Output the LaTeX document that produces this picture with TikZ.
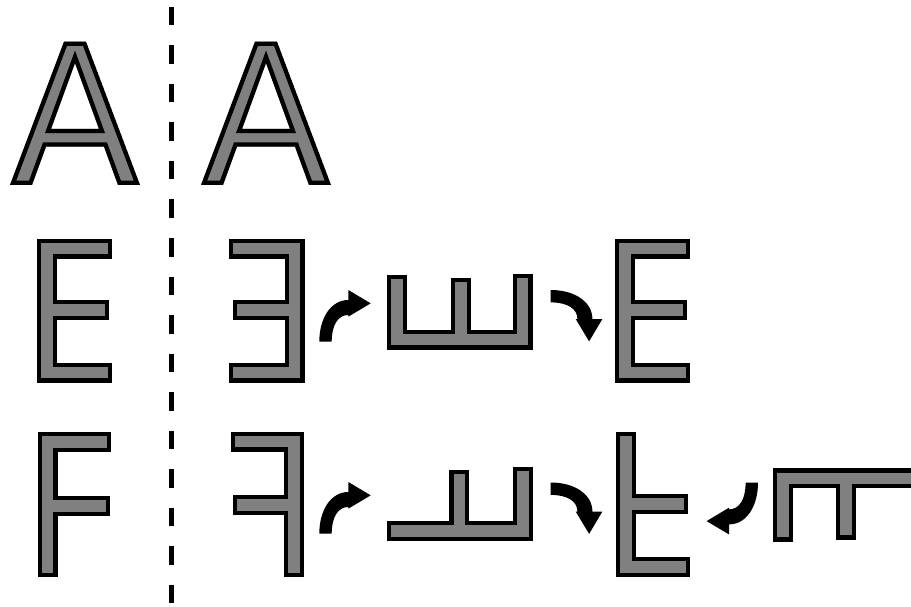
\documentclass[tikz,border=0pt]{standalone}
\begin{document}
\tikzset{
  glyphblack/.style={line width=20pt, line cap=rect, line join=miter, draw=black},
  glyphgray/.style={line width=11.5pt, line cap=rect, line join=miter, draw=gray},
  arrowshape/.style={fill=black},
  divider/.style={line width=5pt, draw=black, dash pattern=on 18.5pt off 20pt},
}
\newcommand\glyphpath[1]{\draw[glyphblack] #1; \draw[glyphgray] #1;}
\newcommand\drawAshape[1]{%
  \begin{scope}[shift={(#1,0)}]
    \clip (10,185) -- (64,41.7) -- (86,41.7) -- (140,185) -- (118,185) -- (104,146.7) -- (46,146.7) -- (32,185) -- cycle (75,63) -- (51,129) -- (99,129) -- cycle;
    \fill[gray, even odd rule] (10,185) -- (64,41.7) -- (86,41.7) -- (140,185) -- (118,185) -- (104,146.7) -- (46,146.7) -- (32,185) -- cycle (75,63) -- (51,129) -- (99,129) -- cycle;
    \draw[line width=8.5pt, line join=miter] (10,185) -- (64,41.7) -- (86,41.7) -- (140,185) -- (118,185) -- (104,146.7) -- (46,146.7) -- (32,185) -- cycle (75,63) -- (51,129) -- (99,129) -- cycle;
  \end{scope}}
\newcommand\curvedarrow[2]{%
  \begin{scope}[shift={#1}, rotate=#2]
    \fill[arrowshape] (0,0) .. controls (0,-23.7) and (11.7,-41.7) .. (29,-41.7) -- (29,-51.7) -- (51.4,-38.4) -- (29,-25) -- (29,-26.7) .. controls (18.7,-26.7) and (12.4,-16.7) .. (12.4,0) -- cycle;
  \end{scope}}
\begin{tikzpicture}[x=1pt, y=-1pt]
  \useasboundingbox (0,0) rectangle (911,607);
  \clip (0,0) rectangle (911,607);
  % divider
  \draw[divider] (171,7) -- (171,607);
  % row A
  \drawAshape{0}
  \drawAshape{191}
  % row E
  \glyphpath{(102,248.5) -- (47,248.5) -- (47,372.7) -- (102,372.7) (47,310) -- (99,310)}
  \glyphpath{(238.5,248.5) -- (294.5,248.5) -- (294.5,372.7) -- (238.5,372.7) (294.5,310) -- (242.5,310)}
  \glyphpath{(397,284.5) -- (397,339.7) -- (522.5,339.7) -- (522.5,283.5) (461,339.7) -- (461,287.8)}
  \glyphpath{(680,248.5) -- (625,248.5) -- (625,372.7) -- (680,372.7) (625,310) -- (677,310)}
  % row F
  \glyphpath{(101,442) -- (47.5,442) -- (47.5,567.2) (47.5,506) -- (99.8,506)}
  \glyphpath{(241.2,441.5) -- (294,441.5) -- (294,567.2) (294,505) -- (242.8,505)}
  \glyphpath{(397.2,531) -- (523,531) -- (523,477.2) (459.4,531) -- (459.4,479.5)}
  \glyphpath{(626,442.2) -- (626,567) -- (680.2,567) (626,504) -- (678.3,504)}
  \glyphpath{(783,531.5) -- (783,478.3) -- (930,478.3) (846,478.3) -- (846,529.5)}
  % arrows
  \curvedarrow{(319.3,341.7)}{0}
  \curvedarrow{(550.7,290)}{-90}
  \curvedarrow{(319.3,533.7)}{0}
  \curvedarrow{(550.7,482.5)}{-90}
  \curvedarrow{(758,482.7)}{180}
\end{tikzpicture}
\end{document}
